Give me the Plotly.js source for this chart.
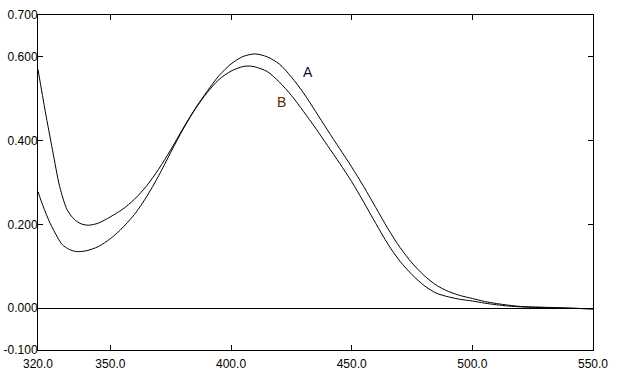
<!DOCTYPE html>
<html>
<head>
<meta charset="utf-8">
<script src="https://cdn.plot.ly/plotly-3.0.1.min.js"></script>
<style>html,body{margin:0;padding:0;background:#fff;}#chart{width:623px;height:380px;}</style>
</head>
<body>
<div id="chart"></div>
<script>
const wavelengthA = [320,323,326,329,332,335,338,341,345,350,355,360,365,370,375,380,385,390,395,400,405,410,415,420,425,430,435,440,445,450,455,460,465,470,475,480,485,490,495,500,505,510,515,520,530,540,550];
const absorbanceA = [0.570,0.470,0.378,0.290,0.236,0.212,0.201,0.198,0.203,0.218,0.236,0.260,0.292,0.332,0.378,0.428,0.475,0.517,0.555,0.583,0.601,0.607,0.600,0.583,0.552,0.514,0.470,0.425,0.381,0.337,0.290,0.240,0.190,0.145,0.108,0.078,0.055,0.040,0.030,0.023,0.016,0.011,0.007,0.004,0.002,0.000,-0.002];
const wavelengthB = [320,322,325,328,330,333,336,340,345,350,354,360,365,370,375,380,385,390,395,400,405,408,410,415,420,425,430,435,440,445,450,455,460,465,470,475,480,485,490,495,500,505,510,515,520,530,540,550];
const absorbanceB = [0.278,0.245,0.203,0.170,0.152,0.140,0.135,0.137,0.147,0.166,0.186,0.224,0.266,0.316,0.372,0.426,0.474,0.514,0.546,0.566,0.577,0.578,0.576,0.565,0.540,0.508,0.470,0.430,0.388,0.346,0.302,0.253,0.202,0.153,0.112,0.080,0.054,0.036,0.027,0.021,0.017,0.012,0.008,0.005,0.003,0.001,0.000,-0.002];
const xTickVals = [320,350,400,450,500,550];
const xTickText = ["320.0","350.0","400.0","450.0","500.0","550.0"];
const yTickVals = [-0.1,0,0.2,0.4,0.6,0.7];
const yTickText = ["-0.100","0.000","0.200","0.400","0.600","0.700"];
const seriesLabels = ["A","B"];

const traces = [
  {x: wavelengthA, y: absorbanceA, type:'scatter', mode:'lines', line:{color:'#000', width:1, shape:'spline', smoothing:0.8}, hoverinfo:'skip'},
  {x: wavelengthB, y: absorbanceB, type:'scatter', mode:'lines', line:{color:'#000', width:1, shape:'spline', smoothing:0.8}, hoverinfo:'skip'}
];
const axisCommon = {showgrid:false, showline:true, linecolor:'#000', linewidth:1, mirror:'ticks', ticks:'inside', ticklen:5, tickcolor:'#000', tickwidth:1, tickfont:{family:'Liberation Sans, Arial, sans-serif', size:12, color:'#000'}, tickmode:'array', fixedrange:true};
const layout = {
  width:623, height:380,
  margin:{l:38, r:30, t:15, b:30},
  paper_bgcolor:'#fff', plot_bgcolor:'#fff',
  showlegend:false,
  xaxis: Object.assign({}, axisCommon, {range:[320,550], tickvals:xTickVals, ticktext:xTickText, zeroline:false, ticklabelstandoff:3}),
  yaxis: Object.assign({}, axisCommon, {range:[-0.1,0.7], tickvals:yTickVals, ticktext:yTickText, zeroline:true, zerolinecolor:'#000', zerolinewidth:1, ticklabelstandoff:-3}),
  annotations:[
    {x:431.9, y:0.564, xref:'x', yref:'y', text:seriesLabels[0], showarrow:false, font:{family:'Liberation Sans, Arial, sans-serif', size:14, color:'#0a1030'}},
    {x:421.1, y:0.492, xref:'x', yref:'y', text:seriesLabels[1], showarrow:false, font:{family:'Liberation Sans, Arial, sans-serif', size:14, color:'#5a2800'}}
  ]
};
Plotly.newPlot('chart', traces, layout, {displayModeBar:false, staticPlot:true});
</script>
</body>
</html>
